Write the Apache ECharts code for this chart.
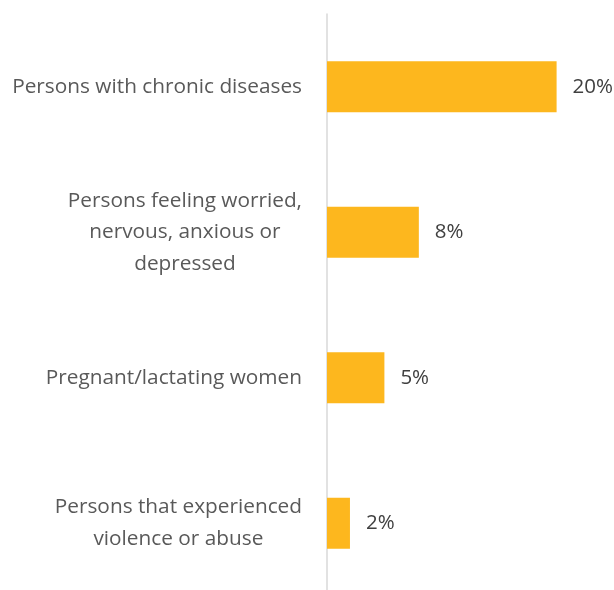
<!DOCTYPE html>
<html><head><meta charset="utf-8">
<script src="https://cdn.jsdelivr.net/npm/echarts@6/dist/echarts.min.js"></script>
<style>html,body{margin:0;padding:0;background:#fff;overflow:hidden}#c{width:614px;height:596px}</style>
</head><body><div id="c"></div>
<script>
var categories = [
  'Persons with chronic diseases',
  'Persons feeling worried,\nnervous, anxious or\ndepressed',
  'Pregnant/lactating women',
  'Persons that experienced\nviolence or abuse'
];
var values = [20, 8, 5, 2];

var FONT = 'Open Sans';
var chart = echarts.init(document.getElementById('c'));
chart.setOption({
  animation: false,
  textStyle: {fontFamily: FONT},
  grid: {left: 327, right: 0, top: 14, bottom: 0, containLabel: false},
  xAxis: {type: 'value', min: 0, max: 25, show: false},
  yAxis: {
    type: 'category', data: categories, inverse: true,
    axisLine: {show: true, lineStyle: {color: '#d9d9d9', width: 1.5}},
    axisTick: {show: false},
    axisLabel: {
      margin: 25, color: '#595959', fontSize: 20.8, fontFamily: FONT, lineHeight: 31.5,
      formatter: function (v) { return v.split('\n').map(function (l) { return '{c|' + l + '}'; }).join('\n'); },
      rich: {c: {align: 'center', color: '#595959', fontSize: 20.8, fontFamily: FONT, lineHeight: 31.5}}
    }
  },
  series: [{
    type: 'bar', data: values, barWidth: 51,
    itemStyle: {color: '#FDB71E'},
    label: {show: true, position: 'right', distance: 16, color: '#404040', fontSize: 20.5, fontFamily: FONT,
      formatter: function (p) { return p.value + '%'; }}
  }]
});
</script></body></html>
